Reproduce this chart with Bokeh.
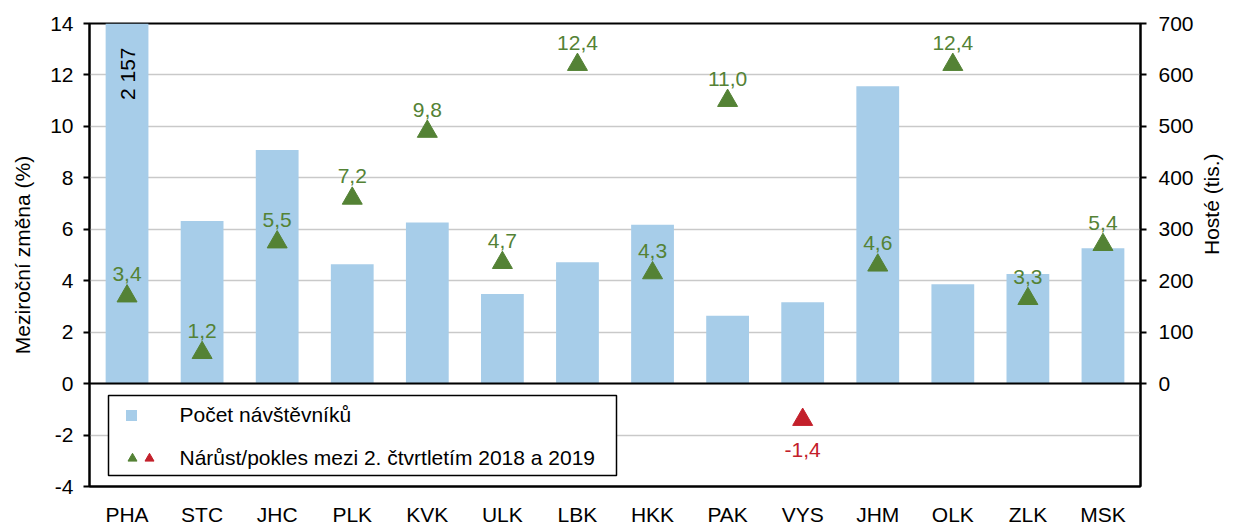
import math
from bokeh.plotting import figure
from bokeh.models import Range1d, LinearAxis, FixedTicker, Span, ColumnDataSource, FactorRange
from bokeh.core.properties import value
from bokeh.embed import file_html
from bokeh.resources import INLINE

# ---------------- data ----------------
regions = ["PHA", "STC", "JHC", "PLK", "KVK", "ULK", "LBK", "HKK", "PAK", "VYS", "JHM", "OLK", "ZLK", "MSK"]
visitors = [2157, 316, 454, 232, 313, 174, 236, 309, 132, 158, 578, 193, 213, 263]   # thousands
change = [3.4, 1.2, 5.5, 7.2, 9.8, 4.7, 12.4, 4.3, 11.0, -1.4, 4.6, 12.4, 3.3, 5.4]  # %
left_ticks = [-4, -2, 0, 2, 4, 6, 8, 10, 12, 14]
right_ticks = [0, 100, 200, 300, 400, 500, 600, 700]
bar_label = "Počet návštěvníků"
tri_label = "Nárůst/pokles mezi 2. čtvrtletím 2018 a 2019"
y_left_title = "Meziroční změna (%)"
y_right_title = "Hosté (tis.)"

# ---------------- style ----------------
FONT = "Liberation Sans"
FS = "21px"
BAR_C = "#a7cde9"
GREEN = "#548235"
RED = "#c3202b"
GRID_C = "#c9c9c9"
LEFT, TOP = 89, 23
W, H = 1051, 463
L_MIN, L_MAX = left_ticks[0], left_ticks[-1]
R_MAX = right_ticks[-1]
R_MIN = L_MIN * R_MAX / L_MAX

p = figure(x_range=FactorRange(*regions), y_range=Range1d(L_MIN, L_MAX),
           frame_width=W, frame_height=H, output_backend="svg", toolbar_location=None,
           min_border_left=LEFT, min_border_top=TOP, min_border_right=0, min_border_bottom=0,
           background_fill_color="white", border_fill_color="white")
p.extra_y_ranges = {"hoste": Range1d(R_MIN, R_MAX), "py": Range1d(0, H)}

p.outline_line_color = "black"
p.outline_line_width = 2
p.xgrid.grid_line_color = None
p.ygrid.ticker = FixedTicker(ticks=left_ticks)
p.ygrid.grid_line_color = GRID_C
p.ygrid.grid_line_width = 1.6

# left axis
ya = p.yaxis[0]
ya.ticker = FixedTicker(ticks=left_ticks)
ya.major_label_overrides = {t: str(t) for t in left_ticks}
ya.axis_label = y_left_title
ya.axis_label_standoff = 13
ya.major_label_standoff = 10

# right axis
ra = LinearAxis(y_range_name="hoste", ticker=FixedTicker(ticks=right_ticks), axis_label=y_right_title)
ra.axis_label_standoff = 15
ra.major_label_standoff = 12
try:
    ra.axis_label_orientation = math.pi / 2
except Exception:
    pass
p.add_layout(ra, "right")

for ax in [ya, ra]:
    ax.major_tick_out = 6
    ax.major_tick_in = 0
    ax.minor_tick_line_color = None

xa = p.xaxis[0]
xa.major_tick_out = 0
xa.major_tick_in = 0
xa.major_label_standoff = 16

for ax in [ya, ra, xa]:
    ax.axis_line_color = "black"
    ax.axis_line_width = 2
    ax.major_tick_line_color = "black"
    ax.major_tick_line_width = 2
    ax.major_label_text_font = FONT
    ax.major_label_text_font_size = FS
    ax.major_label_text_color = "black"
    ax.axis_label_text_font = FONT
    ax.axis_label_text_font_size = FS
    ax.axis_label_text_font_style = "normal"
    ax.axis_label_text_color = "black"

# bars
bsrc = ColumnDataSource(dict(region=regions, visitors=visitors))
p.vbar(x="region", top="visitors", width=0.57, source=bsrc, y_range_name="hoste",
       fill_color=BAR_C, line_color=None)

# label for bars exceeding the axis
big = [(r, v) for r, v in zip(regions, visitors) if v > R_MAX]
if big:
    p.text(x=[r for r, _ in big], y=[R_MAX] * len(big),
           text=[f"{v:,}".replace(",", " ") for _, v in big],
           y_range_name="hoste", angle=math.pi / 2, text_align="right", text_baseline="middle",
           y_offset=24, text_font=value(FONT), text_font_size=FS, text_color="black")

p.add_layout(Span(location=0, dimension="width", line_color="black", line_width=2))

# triangles
colors = [GREEN if c >= 0 else RED for c in change]
labels = [f"{c:.1f}".replace(".", ",") for c in change]
offs = [-22 if c >= 0 else 30 for c in change]
tsrc = ColumnDataSource(dict(region=regions, change=change, color=colors, label=labels, off=offs))
p.scatter(x="region", y="change", marker="triangle", size=20, source=tsrc,
          fill_color="color", line_color="color")
p.text(x="region", y="change", text="label", source=tsrc, y_offset="off",
       text_align="center", text_baseline="middle", text_color="color",
       text_font=value(FONT), text_font_size=FS)

# ---------------- legend (manual; x in synthetic category units, y in frame px) ----------------
CAT_PX = W / len(regions)

def fx(ix):
    return (ix - LEFT) / CAT_PX

def fy(iy):
    return H - (iy - TOP)

p.quad(left=[fx(108)], right=[fx(616)], top=[fy(395)], bottom=[fy(475)],
       y_range_name="py", fill_color="white", line_color="black", line_width=1.5)
p.scatter(x=[fx(131)], y=[fy(415)], marker="square", size=11, y_range_name="py",
          fill_color=BAR_C, line_color=None)
p.scatter(x=[fx(132), fx(149)], y=[fy(458), fy(458)], marker="triangle", size=9,
          y_range_name="py", fill_color=[GREEN, RED], line_color=[GREEN, RED])
p.text(x=[fx(179), fx(179)], y=[fy(414), fy(457)], text=[bar_label, tri_label],
       y_range_name="py", text_align="left", text_baseline="middle",
       text_font=value(FONT), text_font_size=FS, text_color="black")

open("out.html", "w").write(file_html(p, INLINE))
